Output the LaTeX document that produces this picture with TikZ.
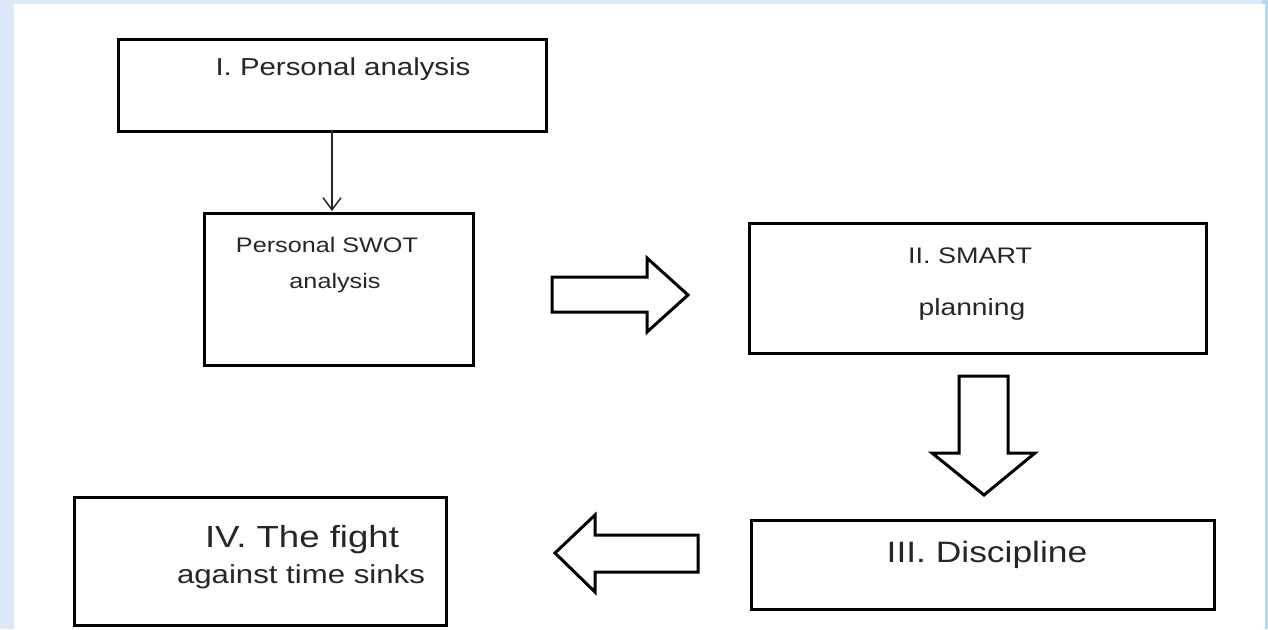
\documentclass[tikz,border=0pt]{standalone}
\usepackage{fontspec}
\setmainfont{Liberation Sans}
\newfontfamily\labfont[FakeStretch=1.2]{Liberation Sans}
\usetikzlibrary{arrows.meta}
\definecolor{bgblue}{HTML}{DDE9F8}
\definecolor{edgeblue}{HTML}{BBD5F8}
\definecolor{txt}{HTML}{262626}
\tikzset{
  box/.style={draw=black, line width=3pt, fill=white, inner sep=0pt, anchor=north west},
  lab/.style={text=txt, inner sep=0pt, anchor=base, font=\labfont},
  blockarrow/.style={draw=black, line width=3pt, fill=white, line join=miter},
  thinarrow/.style={draw=black!85, line width=1.5pt, -{Straight Barb[length=12pt,width=18pt,line width=1.5pt]}}
}
\newcommand{\fsz}[1]{\fontsize{#1}{#1}\selectfont}
\begin{document}
\begin{tikzpicture}[x=1pt,y=-1pt]
\useasboundingbox (0,0) rectangle (1268,629);
\fill[bgblue] (0,0) rectangle (1268,629);
\fill[edgeblue] (1262,0) rectangle (1268,629);
\fill[white] (14,4) rectangle (1265,629);

% boxes
\node[box, minimum width=428pt, minimum height=92pt] (b1) at (117,38) {};
\node[box, minimum width=269pt, minimum height=152pt] (swot) at (203,212) {};
\node[box, minimum width=457pt, minimum height=130pt] (b2) at (748,222) {};
\node[box, minimum width=463pt, minimum height=89pt] (b3) at (750,519) {};
\node[box, minimum width=372pt, minimum height=128pt] (b4) at (73,496) {};

% labels
\node[lab] (t1) at (343,75) {\fsz{24.5}I. Personal analysis};
\node[lab] (t2a) at (327,252) {\fsz{21}Personal SWOT};
\node[lab] (t2b) at (335,288) {\fsz{21}analysis};
\node[lab] (t3a) at (970,263) {\fsz{22.5}II. SMART};
\node[lab] (t3b) at (972,315) {\fsz{23.5}planning};
\node[lab] (t4) at (987,562) {\fsz{29.5}III. Discipline};
\node[lab] (t5a) at (302,547) {\fsz{30.5}IV. The fight};
\node[lab] (t5b) at (301,583) {\fsz{26}against time sinks};

% thin arrow
\coordinate (a1s) at (332,130);
\coordinate (a1e) at (332,211);
\draw[thinarrow] (a1s) -- (a1e);

% block arrows
\draw[blockarrow] (552,277) -- (647,277) -- (647,258) -- (688,295) -- (647,332) -- (647,312) -- (552,312) -- cycle;
\draw[blockarrow] (959,376) -- (1008,376) -- (1008,453) -- (1035,453) -- (984,495) -- (932,453) -- (959,453) -- cycle;
\draw[blockarrow] (698,535) -- (595,535) -- (595,515) -- (555,553) -- (595,592) -- (595,572) -- (698,572) -- cycle;
\end{tikzpicture}
\end{document}
